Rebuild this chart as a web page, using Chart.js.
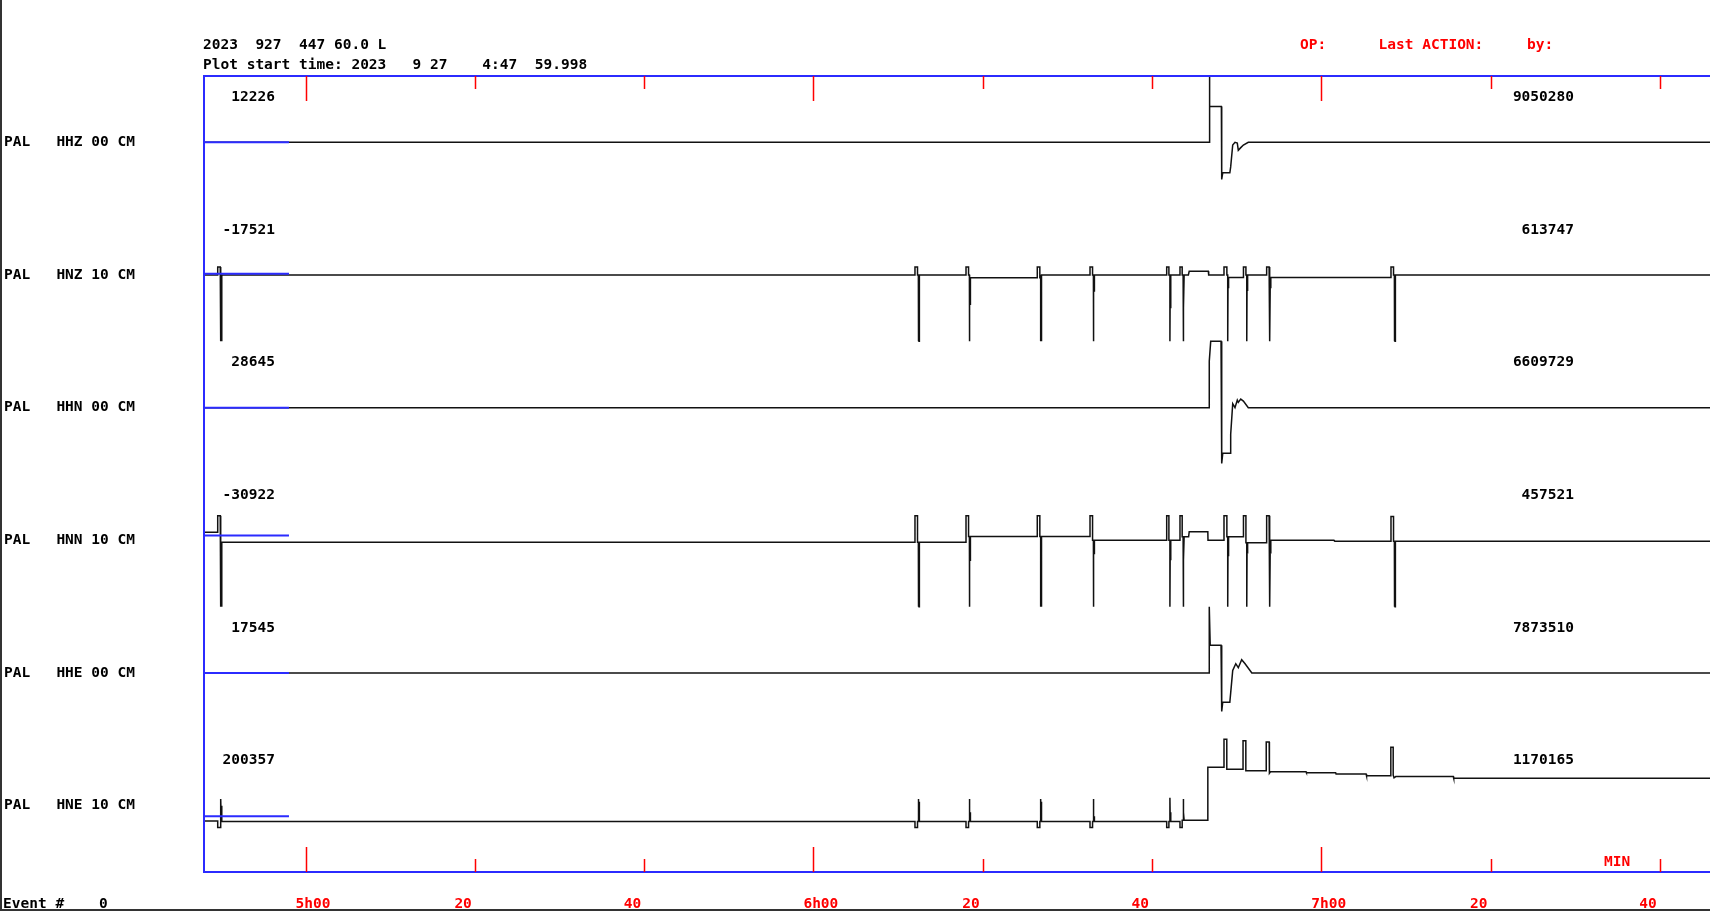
<!DOCTYPE html>
<html>
<head>
<meta charset="utf-8">
<script src="https://cdn.jsdelivr.net/npm/chart.js@4.4.0/dist/chart.umd.min.js"></script>
<style>
  html, body { margin: 0; padding: 0; background: #fff; }
  canvas { display: block; }
</style>
</head>
<body>
<canvas id="seis" width="1710" height="911"></canvas>
<script>
// header texts
const headerLine1 = '2023  927  447 60.0 L';
const headerLine2 = 'Plot start time: 2023   9 27    4:47  59.998';
const headerRed = 'OP:      Last ACTION:     by:';

// channels, top to bottom
const channels = ['PAL   HHZ 00 CM', 'PAL   HNZ 10 CM', 'PAL   HHN 00 CM',
                  'PAL   HNN 10 CM', 'PAL   HHE 00 CM', 'PAL   HNE 10 CM'];
const leftValues = ['12226', '-17521', '28645', '-30922', '17545', '200357'];
const rightValues = ['9050280', '613747', '6609729', '457521', '7873510', '1170165'];

// time axis: minutes after 4:48
const tickMinutes = [12, 32, 52, 72, 92, 112, 132, 152, 172];
const tickLabels = ['5h00', '20', '40', '6h00', '20', '40', '7h00', '20', '40'];
const plotMinutes = 177.93;

// reference level of each trace (fraction of the channel height), drawn for the first 10 min
const refLevels = [0, 0.01, 0, 0.036, 0, -0.08];
const refEnd = 10.04;

// traces: [minute, amplitude as fraction of channel height]
const hhz = [
  [0, 0], [118.75, 0], [118.77, 0.5], [118.85, 0.27], [120.2, 0.27], [120.24, -0.28],
  [120.36, -0.23], [121.2, -0.23], [121.3, -0.185], [121.54, -0.02], [121.81, 0.0],
  [122.08, -0.005], [122.2, -0.06], [122.49, -0.04], [122.8, -0.02], [123.38, 0], [178, 0]
];

const hnz = [
  [0, 0],
  [1.62, 0], [1.62, 0.06], [1.92, 0.06], [1.92, 0], [2.0, 0], [2.0, -0.5], [2.04, 0], [2.08, -0.5], [2.12, 0],
  [84.0, 0], [84.0, 0.06], [84.3, 0.06], [84.3, 0], [84.4, 0], [84.4, -0.5], [84.44, 0], [84.48, -0.5], [84.52, 0],
  [90.03, 0], [90.03, 0.06], [90.33, 0.06], [90.33, 0], [90.43, 0], [90.43, -0.5], [90.47, -0.02], [90.51, -0.22], [90.55, -0.02],
  [98.45, -0.02], [98.45, 0.06], [98.75, 0.06], [98.75, -0.02], [98.85, -0.02], [98.85, -0.5], [98.89, 0], [98.93, -0.5], [98.97, 0],
  [104.68, 0], [104.68, 0.06], [104.98, 0.06], [104.98, 0], [105.08, 0], [105.08, -0.5], [105.12, 0], [105.16, -0.12], [105.2, 0],
  [113.74, 0], [113.74, 0.06], [114.0, 0.06], [114.0, 0], [114.12, 0], [114.12, -0.5], [114.16, 0], [114.2, -0.25], [114.24, 0],
  [115.31, 0], [115.31, 0.06], [115.57, 0.06], [115.57, 0], [115.68, 0], [115.68, -0.5], [115.72, 0], [115.76, -0.25], [115.8, 0],
  [116.3, 0], [116.4, 0.028], [118.66, 0.028], [118.7, 0],
  [120.51, 0], [120.51, 0.06], [120.85, 0.06], [120.85, 0], [120.95, 0], [120.95, -0.5], [120.99, -0.018], [121.03, -0.1], [121.07, -0.018],
  [122.81, -0.018], [122.81, 0.06], [123.1, 0.06], [123.1, 0], [123.2, 0], [123.2, -0.5], [123.24, 0], [123.28, -0.12], [123.32, 0],
  [125.55, 0], [125.55, 0.06], [125.84, 0.06], [125.84, 0], [125.94, 0], [125.94, -0.5], [125.98, -0.018], [126.02, -0.1], [126.06, -0.018],
  [140.24, -0.018], [140.24, 0.06], [140.54, 0.06], [140.54, 0], [140.64, 0], [140.64, -0.5], [140.68, 0], [140.72, -0.5], [140.76, 0],
  [178, 0]
];

const hhn = [
  [0, 0], [118.77, 0], [118.77, 0.35], [118.94, 0.5], [120.16, 0.5], [120.24, -0.42],
  [120.36, -0.344], [121.22, -0.344], [121.3, -0.2], [121.54, 0.03], [121.81, 0.0],
  [122.08, 0.057], [122.2, 0.04], [122.49, 0.065], [122.8, 0.05], [123.38, 0], [178, 0]
];

const hnn = [
  [0, 0.06],
  [1.62, 0.06], [1.62, 0.185], [1.92, 0.185], [1.92, -0.015], [2.0, -0.015], [2.0, -0.5], [2.04, -0.015], [2.08, -0.5], [2.12, -0.015],
  [84.0, -0.015], [84.0, 0.185], [84.3, 0.185], [84.3, -0.015], [84.4, -0.015], [84.4, -0.5], [84.44, -0.015], [84.48, -0.5], [84.52, -0.015],
  [90.03, -0.015], [90.03, 0.185], [90.33, 0.185], [90.33, 0.028], [90.43, 0.028], [90.43, -0.5], [90.47, 0.028], [90.51, -0.15], [90.55, 0.028],
  [98.45, 0.028], [98.45, 0.185], [98.75, 0.185], [98.75, 0.028], [98.85, 0.028], [98.85, -0.5], [98.89, 0.028], [98.93, -0.5], [98.97, 0.028],
  [104.68, 0.028], [104.68, 0.185], [104.98, 0.185], [104.98, 0], [105.08, 0], [105.08, -0.5], [105.12, 0], [105.16, -0.1], [105.2, 0],
  [113.74, 0], [113.74, 0.185], [114.0, 0.185], [114.0, 0], [114.12, 0], [114.12, -0.5], [114.16, 0], [114.2, -0.15], [114.24, 0],
  [115.31, 0], [115.31, 0.185], [115.57, 0.185], [115.57, 0.027], [115.68, 0.027], [115.68, -0.5], [115.72, 0.027], [115.76, -0.15], [115.8, 0.027],
  [116.33, 0.027], [116.4, 0.065], [118.6, 0.065], [118.62, 0],
  [120.51, 0], [120.51, 0.185], [120.85, 0.185], [120.85, 0.027], [120.95, 0.027], [120.95, -0.5], [120.99, 0.027], [121.03, -0.12], [121.07, 0.027],
  [122.81, 0.027], [122.81, 0.185], [123.1, 0.185], [123.1, -0.018], [123.2, -0.018], [123.2, -0.5], [123.24, -0.018], [123.28, -0.1], [123.32, -0.018],
  [125.55, -0.018], [125.55, 0.185], [125.84, 0.185], [125.84, 0], [125.94, 0], [125.94, -0.5], [125.98, 0], [126.02, -0.1], [126.06, 0],
  [133.5, 0], [133.6, -0.006],
  [140.24, -0.006], [140.24, 0.18], [140.54, 0.18], [140.54, -0.006], [140.64, -0.006], [140.64, -0.5], [140.68, -0.006], [140.72, -0.5], [140.76, -0.006],
  [178, -0.006]
];

const hhe = [
  [0, 0], [118.75, 0], [118.77, 0.5], [118.88, 0.21], [120.16, 0.21], [120.24, -0.29],
  [120.36, -0.22], [121.2, -0.22], [121.3, -0.15], [121.54, 0.02], [121.9, 0.07],
  [122.2, 0.04], [122.6, 0.1], [123.0, 0.07], [123.8, 0], [178, 0]
];

const hne = [
  [0, -0.115],
  [1.62, -0.115], [1.62, -0.165], [1.92, -0.165], [1.92, -0.12], [2.0, -0.12], [2.0, 0.05], [2.04, -0.12], [2.08, 0.0], [2.12, -0.12],
  [84.0, -0.12], [84.0, -0.165], [84.3, -0.165], [84.3, -0.12], [84.4, -0.12], [84.4, 0.05], [84.44, -0.12], [84.48, 0.03], [84.52, -0.12],
  [90.03, -0.12], [90.03, -0.165], [90.33, -0.165], [90.33, -0.12], [90.43, -0.12], [90.43, 0.05], [90.47, -0.12], [90.51, -0.05], [90.55, -0.12],
  [98.45, -0.12], [98.45, -0.165], [98.75, -0.165], [98.75, -0.12], [98.85, -0.12], [98.85, 0.05], [98.89, -0.12], [98.93, 0.03], [98.97, -0.12],
  [104.68, -0.12], [104.68, -0.165], [104.98, -0.165], [104.98, -0.12], [105.08, -0.12], [105.08, 0.05], [105.12, -0.12], [105.16, -0.08], [105.2, -0.12],
  [113.74, -0.12], [113.74, -0.165], [114.0, -0.165], [114.0, -0.12], [114.12, -0.12], [114.12, 0.06], [114.16, -0.12], [114.2, -0.05], [114.24, -0.12],
  [115.31, -0.12], [115.31, -0.165], [115.57, -0.165], [115.57, -0.11], [115.68, -0.11], [115.68, 0.05], [115.72, -0.11], [115.76, -0.05], [115.8, -0.11],
  [118.6, -0.11], [118.6, 0.29], [120.51, 0.29], [120.51, 0.5], [120.84, 0.5], [120.84, 0.274],
  [122.76, 0.274], [122.76, 0.49], [123.09, 0.49], [123.09, 0.264],
  [125.5, 0.264], [125.5, 0.48], [125.85, 0.48], [125.85, 0.256], [125.9, 0.245], [126.0, 0.256],
  [130.2, 0.256], [130.25, 0.249], [133.7, 0.249], [133.75, 0.239], [137.3, 0.239], [137.35, 0.226],
  [140.22, 0.226], [140.22, 0.44], [140.5, 0.44], [140.5, 0.23], [140.6, 0.21], [140.8, 0.219],
  [147.6, 0.219], [147.65, 0.206], [178, 0.206]
];

const traces = [hhz, hnz, hhn, hnn, hhe, hne];

const FONT = 'bold 14.5px "DejaVu Sans Mono", "Liberation Mono", monospace';
const BLUE = '#2b2bff';
const RED = '#ff0000';

// each channel gets one unit of height on the y scale, centre at 5.5 - i
function toPoints(list, i) {
    return list.map(p => ({ x: p[0], y: channels.length - 0.5 - i + p[1] }));
}

const datasets = [];
traces.forEach((t, i) => {
    datasets.push({
        data: toPoints(t, i),
        borderColor: '#111',
        borderWidth: 1.5,
        order: 2
    });
});
refLevels.forEach((r, i) => {
    datasets.push({
        data: toPoints([[0, r], [refEnd, r]], i),
        borderColor: BLUE,
        borderWidth: 2,
        order: 1
    });
});

const seisanFrame = {
    id: 'seisanFrame',
    afterDatasetsDraw(chart) {
        const ctx = chart.ctx;
        const a = chart.chartArea;
        const x = chart.scales.x;
        ctx.save();

        // blue frame (open on the right, it runs off the window)
        ctx.strokeStyle = BLUE;
        ctx.lineWidth = 2;
        ctx.beginPath();
        ctx.moveTo(a.right + 5, a.top);
        ctx.lineTo(a.left, a.top);
        ctx.lineTo(a.left, a.bottom);
        ctx.lineTo(a.right + 5, a.bottom);
        ctx.stroke();

        // red time ticks, inside the frame, top and bottom
        ctx.strokeStyle = RED;
        ctx.lineWidth = 1.5;
        tickMinutes.forEach((m, k) => {
            const px = Math.round(x.getPixelForValue(m)) + 0.5;
            const len = tickLabels[k].includes('h') ? 25 : 13;
            ctx.beginPath();
            ctx.moveTo(px, a.top);
            ctx.lineTo(px, a.top + len);
            ctx.moveTo(px, a.bottom);
            ctx.lineTo(px, a.bottom - len);
            ctx.stroke();
        });
        ctx.restore();
    },
    afterDraw(chart) {
        const ctx = chart.ctx;
        const a = chart.chartArea;
        const x = chart.scales.x;
        const y = chart.scales.y;
        ctx.save();
        ctx.font = FONT;
        ctx.textBaseline = 'middle';

        ctx.fillStyle = '#000';
        ctx.textAlign = 'left';
        ctx.fillText(headerLine1, a.left - 1, 45);
        ctx.fillText(headerLine2, a.left - 1, 65);
        ctx.fillStyle = RED;
        ctx.fillText(headerRed, 1300, 45);

        channels.forEach((name, i) => {
            const cy = y.getPixelForValue(channels.length - 0.5 - i);
            ctx.fillStyle = '#000';
            ctx.textAlign = 'left';
            ctx.fillText(name, 4, cy);
            ctx.textAlign = 'right';
            ctx.fillText(leftValues[i], 275, cy - 45);
            ctx.fillText(rightValues[i], 1574, cy - 45);
        });

        // time labels under the frame
        ctx.fillStyle = RED;
        tickMinutes.forEach((m, k) => {
            const px = x.getPixelForValue(m);
            if (tickLabels[k].includes('h')) {
                ctx.textAlign = 'left';
                ctx.fillText(tickLabels[k], px - 10, 904);
            } else {
                ctx.textAlign = 'right';
                ctx.fillText(tickLabels[k], px - 3, 904);
            }
        });
        ctx.textAlign = 'left';
        ctx.fillText('MIN', 1604, 862);

        ctx.fillStyle = '#000';
        ctx.fillText('Event #    0', 3, 904);

        // window edges
        ctx.fillStyle = '#333';
        ctx.fillRect(0, 0, 2, 911);
        ctx.fillRect(0, 909, 1710, 2);
        ctx.restore();
    }
};

const chart = new Chart(document.getElementById('seis'), {
    type: 'line',
    data: { datasets: datasets },
    options: {
        responsive: false,
        animation: false,
        devicePixelRatio: 1,
        layout: { padding: { left: 204, top: 76, right: 0, bottom: 39 } },
        elements: {
            point: { radius: 0 },
            line: { tension: 0, fill: false }
        },
        plugins: {
            legend: { display: false },
            tooltip: { enabled: false }
        },
        scales: {
            x: { type: 'linear', min: 0, max: plotMinutes, display: false },
            y: { type: 'linear', min: 0, max: channels.length, display: false }
        }
    },
    plugins: [seisanFrame]
});
</script>
</body>
</html>
